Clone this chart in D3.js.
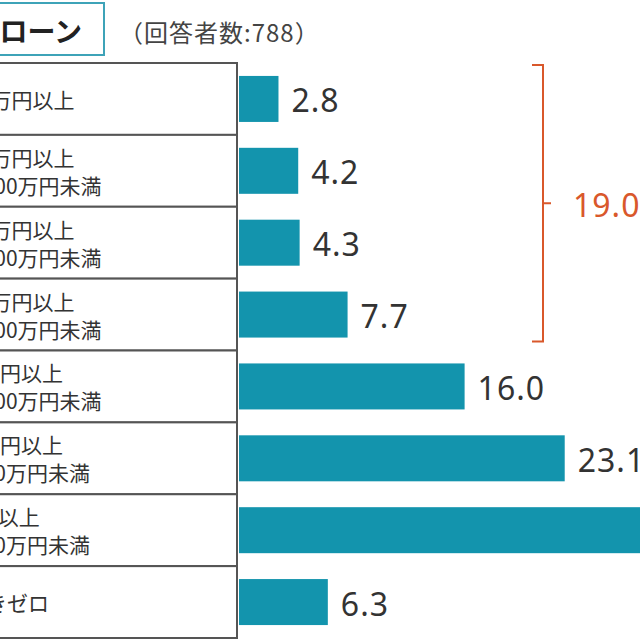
<!DOCTYPE html>
<html>
<head>
<meta charset="utf-8">
<script src="https://cdn.jsdelivr.net/npm/d3@7"></script>
<style>
  html, body { margin: 0; padding: 0; background: #fff; }
  svg { display: block; font-family: "Noto Sans CJK JP", "Noto Sans", sans-serif; }
</style>
</head>
<body>
<div id="chart"></div>
<script>
// --- dati ---
const titleText = "住宅ローン";
const noteText = "（回答者数:788）";
const rowLabels = [
  ["3000万円以上"],
  ["2000万円以上", "～3000万円未満"],
  ["1500万円以上", "～2000万円未満"],
  ["1000万円以上", "～1500万円未満"],
  ["500万円以上", "～1000万円未満"],
  ["100万円以上", "～500万円未満"],
  ["1万円以上", "～100万円未満"],
  ["手付きゼロ"]
];
const values = [2.8, 4.2, 4.3, 7.7, 16.0, 23.1, 35.6, 6.3];
const groupRows = [0, 3];        // righe raggruppate dalla parentesi
const groupLabel = "19.0";

const W = 640, H = 640;
const barColor = "#1394ad";
const accent = "#d9582b";

const svg = d3.select("#chart").append("svg")
  .attr("width", W).attr("height", H);

// scale
const idx = d3.range(values.length);
const y = d3.scaleBand().domain(idx).range([63, 638])
  .paddingInner(0.36).paddingOuter(0.18);
const x = d3.scaleLinear().domain([0, 40]).range([239, 239 + 40 * 14.1]);
const step = y.step();
const rowTop = i => y(i) - step * 0.18;

// titolo
const tableRight = 237;
svg.append("rect")
  .attr("x", -200).attr("y", 3).attr("width", 304).attr("height", 52)
  .attr("fill", "#fff").attr("stroke", "#3ea3b8").attr("stroke-width", 2);
svg.append("text")
  .attr("x", 82).attr("y", 30)
  .attr("text-anchor", "end").attr("dominant-baseline", "central")
  .attr("font-size", 28).attr("font-weight", 700).attr("fill", "#222")
  .text(titleText);
svg.append("text")
  .attr("x", 119).attr("y", 31)
  .attr("dominant-baseline", "central")
  .attr("font-size", 24).attr("fill", "#444")
  .attr("letter-spacing", 1)
  .text(noteText);

// tabella etichette
const table = svg.append("g");
idx.forEach(i => {
  table.append("rect")
    .attr("x", -100).attr("y", rowTop(i))
    .attr("width", tableRight + 100).attr("height", step)
    .attr("fill", "#fff").attr("stroke", "#555").attr("stroke-width", 2);
});

const labelX = -56;
const lab = table.selectAll("text.lab").data(idx).enter()
  .append("text").attr("class", "lab")
  .attr("font-size", 21).attr("fill", "#333");
lab.each(function(i) {
  const t = d3.select(this);
  const lines = rowLabels[i];
  const cy = y(i) + y.bandwidth() / 2;
  lines.forEach((s, k) => {
    const off = lines.length === 1 ? 0 : (k === 0 ? -14 : 14);
    t.append("tspan")
      .attr("x", labelX + (k === 1 ? 6 : 0)).attr("y", cy + off)
      .attr("dominant-baseline", "central")
      .text(s);
  });
});

// barre
svg.selectAll("rect.bar").data(idx).enter()
  .append("rect").attr("class", "bar")
  .attr("x", x(0)).attr("y", i => y(i))
  .attr("width", i => x(values[i]) - x(0))
  .attr("height", y.bandwidth())
  .attr("fill", barColor);

svg.selectAll("text.val").data(idx).enter()
  .append("text").attr("class", "val")
  .attr("x", i => x(values[i]) + 13)
  .attr("y", i => y(i) + y.bandwidth() / 2 + 1)
  .attr("dominant-baseline", "central")
  .attr("font-family", "'Noto Sans', sans-serif")
  .attr("font-size", 32).attr("fill", "#333")
  .attr("letter-spacing", 1)
  .text(i => values[i].toFixed(1));

// parentesi di gruppo
const bx = 543;
const bTop = y(groupRows[0]) - 11;
const bBot = y(groupRows[1]) + y.bandwidth() + 4;
const bMid = (bTop + bBot) / 2;
svg.append("path")
  .attr("d", `M${bx - 11},${bTop} L${bx},${bTop} L${bx},${bBot} L${bx - 11},${bBot} M${bx},${bMid} L${bx + 8},${bMid}`)
  .attr("fill", "none").attr("stroke", accent).attr("stroke-width", 2);
svg.append("text")
  .attr("x", bx + 30).attr("y", bMid + 1)
  .attr("dominant-baseline", "central")
  .attr("font-family", "'Noto Sans', sans-serif")
  .attr("font-size", 32).attr("fill", accent)
  .attr("letter-spacing", 1)
  .text(groupLabel);
</script>
</body>
</html>
